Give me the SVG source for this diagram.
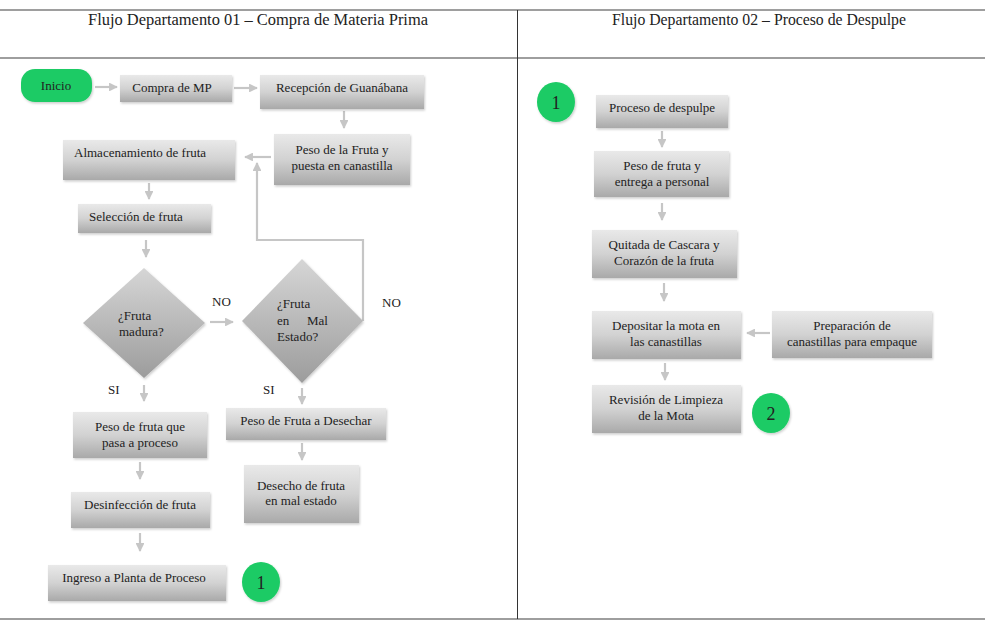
<svg xmlns="http://www.w3.org/2000/svg" width="985" height="621" viewBox="0 0 985 621">
<defs>
<linearGradient id="gBox" x1="0" y1="0" x2="0" y2="1">
<stop offset="0" stop-color="#e9e9e9"/>
<stop offset="0.5" stop-color="#d2d2d2"/>
<stop offset="1" stop-color="#a9a9a9"/>
</linearGradient>
<linearGradient id="gDia" x1="0" y1="0" x2="0" y2="1">
<stop offset="0" stop-color="#d6d6d6"/>
<stop offset="1" stop-color="#9c9c9c"/>
</linearGradient>
<filter id="sh" x="-10%" y="-10%" width="120%" height="130%">
<feDropShadow dx="1" dy="1.5" stdDeviation="1.2" flood-color="#000" flood-opacity="0.2"/>
</filter>
<marker id="ah" viewBox="0 0 10 10" refX="9" refY="5" markerWidth="4" markerHeight="4" orient="auto" markerUnits="strokeWidth">
<path d="M0,0 L10,5 L0,10 z" fill="#c6c6c6"/>
</marker>
</defs>
<style>
.box{fill:url(#gBox);filter:url(#sh)}
.dia{fill:url(#gDia);filter:url(#sh)}
.green{fill:#1ccb65;filter:url(#sh)}
.t{font-family:"Liberation Serif","Times New Roman",serif;font-size:13px;fill:#222}
.tc{text-anchor:middle}
.h{font-family:"Liberation Serif","Times New Roman",serif;font-size:16px;fill:#222;text-anchor:middle}
.num{font-family:"Liberation Serif","Times New Roman",serif;font-size:18px;fill:#222;text-anchor:middle}
.c{fill:none;stroke:#c6c6c6;stroke-width:2.2;marker-end:url(#ah)}
.tl{stroke:#9e9e9e;stroke-width:2}
</style>

<g id="table">
<line class="tl" x1="0" y1="10" x2="985" y2="10"/>
<line class="tl" x1="0" y1="58" x2="985" y2="58"/>
<line class="tl" x1="0" y1="619" x2="985" y2="619"/>
<line x1="517.5" y1="10" x2="517.5" y2="619" stroke="#333" stroke-width="1"/>
<text class="h" x="258" y="25" textLength="340" lengthAdjust="spacingAndGlyphs">Flujo Departamento 01 – Compra de Materia Prima</text>
<text class="h" x="759" y="25" textLength="294" lengthAdjust="spacingAndGlyphs">Flujo Departamento 02 – Proceso de Despulpe</text>
</g>

<g id="connectors">
<path class="c" d="M95,87 H117"/>
<path class="c" d="M234,88 H257"/>
<path class="c" d="M344,111 V128"/>
<path class="c" d="M271,157 H245"/>
<path class="c" d="M363,321 V240 H257 V163"/>
<path class="c" d="M149,183 V199"/>
<path class="c" d="M146,240 V257"/>
<path class="c" d="M210,322 H233"/>
<path class="c" d="M144,385 V401"/>
<path class="c" d="M302,388 V404"/>
<path class="c" d="M302,443 V460"/>
<path class="c" d="M140,462 V479"/>
<path class="c" d="M140,533 V551"/>
<path class="c" d="M662,131 V147"/>
<path class="c" d="M662,203 V220"/>
<path class="c" d="M664,283 V301"/>
<path class="c" d="M770,333 H747"/>
<path class="c" d="M665,363 V380"/>
<text class="t" x="212" y="306">NO</text>
<text class="t" x="382" y="307">NO</text>
<text class="t" x="108" y="394">SI</text>
<text class="t" x="263" y="394">SI</text>
</g>

<g id="inicio">
<rect class="green" x="21" y="69" width="71" height="33" rx="14"/>
<text class="t tc" x="56" y="90">Inicio</text>
</g>
<g id="compra">
<rect class="box" x="120" y="75" width="112" height="27"/>
<text class="t tc" x="172" y="92">Compra de MP</text>
</g>
<g id="recepcion">
<rect class="box" x="260" y="75" width="164" height="34"/>
<text class="t tc" x="342" y="92">Recepción de Guanábana</text>
</g>
<g id="peso-fruta">
<rect class="box" x="274" y="134" width="136" height="51"/>
<text class="t tc" x="342" y="154">Peso de la Fruta y</text>
<text class="t tc" x="342" y="170">puesta en canastilla</text>
</g>
<g id="almacenamiento">
<rect class="box" x="63" y="140" width="172" height="40"/>
<text class="t" x="74" y="157">Almacenamiento de fruta</text>
</g>
<g id="seleccion">
<rect class="box" x="78" y="204" width="133" height="29"/>
<text class="t" x="89" y="221">Selección de fruta</text>
</g>
<g id="madura">
<polygon class="dia" points="144,268 205,323 144,378 83,323"/>
<text class="t" x="118" y="320">¿Fruta</text>
<text class="t" x="119" y="336">madura?</text>
</g>
<g id="mal-estado">
<polygon class="dia" points="302,259 363,321 302,383 242,321"/>
<text class="t" x="277" y="308">¿Fruta</text>
<text class="t" x="277" y="325"><tspan>en</tspan><tspan x="307">Mal</tspan></text>
<text class="t" x="277" y="341">Estado?</text>
</g>
<g id="peso-proceso">
<rect class="box" x="73" y="412" width="134" height="46"/>
<text class="t tc" x="140" y="431">Peso de fruta que</text>
<text class="t tc" x="140" y="447">pasa a proceso</text>
</g>
<g id="peso-desechar">
<rect class="box" x="226" y="408" width="160" height="32"/>
<text class="t tc" x="306" y="425">Peso de Fruta a Desechar</text>
</g>
<g id="desecho">
<rect class="box" x="244" y="465" width="115" height="58"/>
<text class="t tc" x="301" y="490">Desecho de fruta</text>
<text class="t tc" x="301" y="505">en mal estado</text>
</g>
<g id="desinfeccion">
<rect class="box" x="71" y="492" width="139" height="36"/>
<text class="t tc" x="140" y="509">Desinfección de fruta</text>
</g>
<g id="ingreso">
<rect class="box" x="48" y="565" width="178" height="36"/>
<text class="t tc" x="134" y="582">Ingreso a Planta de Proceso</text>
</g>
<g id="conector-1a">
<ellipse class="green" cx="261" cy="582" rx="19" ry="20"/>
<text class="num" x="261" y="589">1</text>
</g>

<g id="conector-1b">
<ellipse class="green" cx="556" cy="102" rx="19" ry="20"/>
<text class="num" x="556" y="109">1</text>
</g>
<g id="despulpe">
<rect class="box" x="596" y="95" width="132" height="33"/>
<text class="t tc" x="662" y="112">Proceso de despulpe</text>
</g>
<g id="entrega">
<rect class="box" x="594" y="151" width="135" height="46"/>
<text class="t tc" x="662" y="170">Peso de fruta y</text>
<text class="t tc" x="662" y="186">entrega a personal</text>
</g>
<g id="quitada">
<rect class="box" x="592" y="230" width="145" height="48"/>
<text class="t tc" x="664" y="249">Quitada de Cascara y</text>
<text class="t tc" x="664" y="265">Corazón de la fruta</text>
</g>
<g id="depositar">
<rect class="box" x="592" y="311" width="149" height="48"/>
<text class="t tc" x="666" y="330">Depositar la mota en</text>
<text class="t tc" x="666" y="346">las canastillas</text>
</g>
<g id="preparacion">
<rect class="box" x="772" y="311" width="160" height="47"/>
<text class="t tc" x="852" y="330">Preparación de</text>
<text class="t tc" x="852" y="346">canastillas para empaque</text>
</g>
<g id="revision">
<rect class="box" x="592" y="385" width="149" height="48"/>
<text class="t tc" x="666" y="404">Revisión de Limpieza</text>
<text class="t tc" x="666" y="420">de la Mota</text>
</g>
<g id="conector-2">
<ellipse class="green" cx="771" cy="413" rx="19" ry="20"/>
<text class="num" x="771" y="420">2</text>
</g>
</svg>
